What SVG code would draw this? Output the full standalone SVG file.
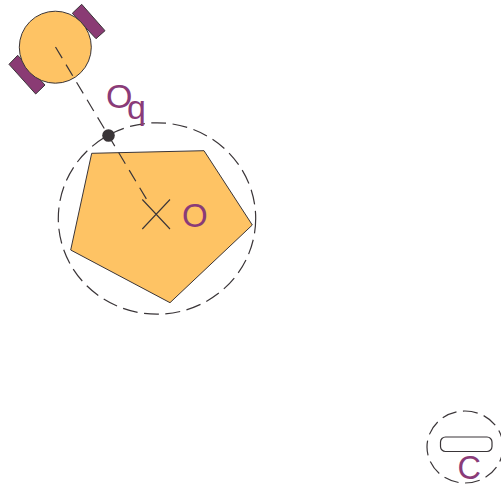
<svg xmlns="http://www.w3.org/2000/svg" width="501" height="486" viewBox="0 0 501 486">
<style>
.body{fill:#fec364;stroke:#3a3538;stroke-width:1}
.dash{fill:none;stroke:#3a3538;stroke-width:1.200}
.ring{stroke-dasharray:15 6.500}
.link{stroke-dasharray:13 7.500}
.wheel{fill:#8a3b74;stroke:#3a3538;stroke-width:1}
.thin{fill:none;stroke:#3a3538;stroke-width:1.100}
text{font-family:"Liberation Sans",Arial,sans-serif;fill:#8a3b78}
</style>
<g id="workspace">
<ellipse class="dash ring" cx="157" cy="218.500" rx="98.700" ry="95.700"/>
</g>
<g id="obstacle">
<polygon class="body" points="91.700,153.300 204,150.700 252.300,225 170,302.700 70.700,250"/>
<path class="thin" d="M142.300 199.500L170 229M170 199.500L142.300 229"/>
<text x="182" y="227" font-size="33">O</text>
</g>
<g id="robot">
<polygon class="wheel" points="81.700,4.300 105,30.700 96,38.700 72.300,13.300"/>
<polygon class="wheel" points="17.700,55.300 45,85 35.700,94 9,64.300"/>
<circle class="body" cx="55.300" cy="47.200" r="36"/>
</g>
<g id="connectors">
<line class="dash link" x1="55.500" y1="47" x2="150" y2="205"/>
</g>
<g id="point-q">
<circle cx="108.500" cy="135.500" r="6.300" fill="#3a3538"/>
<text x="106" y="108" font-size="34">O<tspan dx="-5.400" dy="11">q</tspan></text>
</g>
<g id="config-c">
<ellipse class="dash ring" cx="465" cy="447" rx="38" ry="36"/>
<rect x="440.500" y="437" width="51.500" height="14.500" rx="5" fill="#fff" stroke="#3a3538" stroke-width="1.200"/>
<text x="457.500" y="479" font-size="32.500">C</text>
</g>
</svg>
